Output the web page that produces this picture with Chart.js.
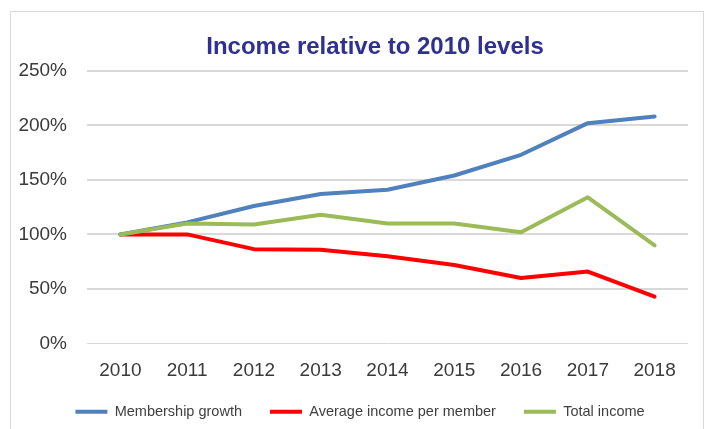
<!DOCTYPE html>
<html>
<head>
<meta charset="utf-8">
<script src="https://cdn.jsdelivr.net/npm/chart.js@4/dist/chart.umd.min.js"></script>
<style>
  html, body { margin: 0; padding: 0; background: #fff; }
  #wrap { position: relative; width: 707px; height: 429px; overflow: hidden; }
  #frame { position: absolute; left: 10px; top: 11px; width: 692px; height: 500px; border: 1px solid #d9d9d9; }
  canvas { position: absolute; left: 0; top: 0; }
</style>
</head>
<body>
<div id="wrap">
  <div id="frame"></div>
  <canvas id="chart" width="707" height="429"></canvas>
</div>
<script>
const years = ["2010", "2011", "2012", "2013", "2014", "2015", "2016", "2017", "2018"];
const membershipGrowth = [100, 111, 126, 137, 141, 154, 173, 202, 208];
const avgIncomePerMember = [100, 100, 86.5, 86, 80, 72, 60, 66, 43];
const totalIncome = [100, 110, 109, 118, 110, 110, 102, 134, 90];

const TICK = "#3a3a3a";
const GRID = "#d9d9d9";
const FONT = "'Liberation Sans', Arial, sans-serif";

function line(label, data, color, order) {
  return {
    label, data, order,
    borderColor: color, backgroundColor: color,
    borderWidth: 4, pointRadius: 0, tension: 0,
    borderJoinStyle: "round", borderCapStyle: "round"
  };
}

// title and legend sit a bit right of the canvas centre in the original
function shift(box, dx) {
  if (!box) return;
  box.left += dx;
  box.right += dx;
}
const nudge = {
  id: "nudge",
  afterLayout(chart) {
    shift(chart.titleBlock, 31);
    shift(chart.legend, 16);
  }
};

new Chart(document.getElementById("chart").getContext("2d"), {
  type: "line",
  data: {
    labels: years,
    datasets: [
      line("Membership growth", membershipGrowth, "#4f81bd", 1),
      line("Average income per member", avgIncomePerMember, "#ff0000", 2),
      line("Total income", totalIncome, "#9bbb59", 0)
    ]
  },
  plugins: [nudge],
  options: {
    responsive: false,
    animation: false,
    layout: { padding: { left: 0, right: 19, top: 0, bottom: 0 } },
    plugins: {
      title: {
        display: true,
        text: "Income relative to 2010 levels",
        color: "#2e3192",
        font: { family: FONT, size: 24, weight: "bold" },
        padding: { top: 33, bottom: 9 }
      },
      legend: {
        position: "bottom",
        labels: {
          usePointStyle: true,
          pointStyle: "line",
          pointStyleWidth: 32,
          padding: 28,
          color: "#404040",
          font: { family: FONT, size: 14.5 },
          sort: (a, b) => a.datasetIndex - b.datasetIndex
        }
      },
      tooltip: { enabled: false }
    },
    scales: {
      x: {
        offset: true,
        grid: { display: false, drawTicks: false },
        border: { display: false },
        ticks: { color: TICK, padding: 16, font: { family: FONT, size: 19 } },
        afterFit: (s) => { s.height = 33; }
      },
      y: {
        min: 0, max: 250,
        grid: { color: GRID, lineWidth: (c) => (c.tick && c.tick.value === 0 ? 1 : 2), drawTicks: false },
        border: { display: false },
        ticks: {
          stepSize: 50, color: TICK, padding: 20,
          font: { family: FONT, size: 19 },
          callback: (v) => v + "%"
        },
        afterFit: (s) => { s.width = 87; }
      }
    }
  }
});
</script>
</body>
</html>
